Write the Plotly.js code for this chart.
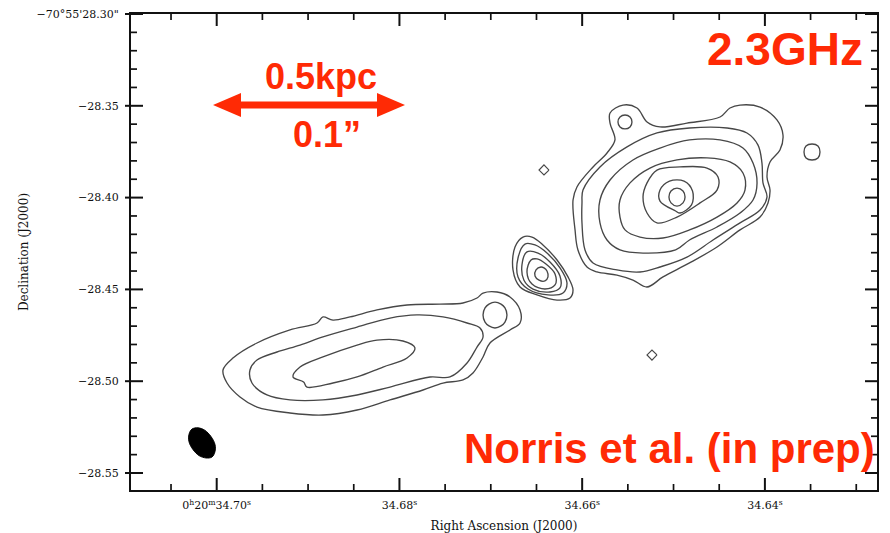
<!DOCTYPE html>
<html><head><meta charset="utf-8">
<script src="https://cdn.plot.ly/plotly-3.0.1.min.js"></script>
<style>html,body{margin:0;padding:0;background:#fff;}</style>
</head><body><div id="chart" style="width:890px;height:533px;"></div>
<script>
// ---- Axis ticks (RA seconds of 0h20m, Dec arcsec of -70d55m) ----
const raTickVals = [34.70, 34.68, 34.66, 34.64];
const raTickText = ['0<sup>h</sup>20<sup>m</sup>34.70<sup>s</sup>', '34.68<sup>s</sup>', '34.66<sup>s</sup>', '34.64<sup>s</sup>'];
const raMinorVals = [34.705, 34.695, 34.69, 34.685, 34.675, 34.67, 34.665, 34.655, 34.65, 34.645, 34.635, 34.63];
const decTickVals = [-28.30, -28.35, -28.40, -28.45, -28.50, -28.55];
const decTickText = ['\u221270\u00b055\'28.30"', '\u221228.35', '\u221228.40', '\u221228.45', '\u221228.50', '\u221228.55'];
const decMinorVals = [-28.31, -28.32, -28.33, -28.34, -28.36, -28.37, -28.38, -28.39, -28.41, -28.42, -28.43, -28.44,
                      -28.46, -28.47, -28.48, -28.49, -28.51, -28.52, -28.53, -28.54];
const raRange = [34.70938, 34.62773];
const decRange = [-28.55926, -28.30];

// ---- Contour levels (RA s, Dec ") ----
// South-east lobe
const lobeOuterRA = [34.69931, 34.69822, 34.69559, 34.69198, 34.68902, 34.68837, 34.68727, 34.68541, 34.68246, 34.67917, 34.67556, 34.67304, 34.67151, 34.67085, 34.66932, 34.66790, 34.66680, 34.66680, 34.66790, 34.67009, 34.67085, 34.67195, 34.67304, 34.67523, 34.67742, 34.68103, 34.68464, 34.68837, 34.69198, 34.69559, 34.69745, 34.69887];
const lobeOuterDec = [-28.4939, -28.4874, -28.4792, -28.4721, -28.4683, -28.4650, -28.4667, -28.4650, -28.4612, -28.4585, -28.4580, -28.4574, -28.4547, -28.4520, -28.4514, -28.4541, -28.4612, -28.4683, -28.4721, -28.4792, -28.4868, -28.4955, -28.4993, -28.5010, -28.5048, -28.5102, -28.5157, -28.5184, -28.5173, -28.5141, -28.5086, -28.5010];
const lobeMidRA = [34.69636, 34.69559, 34.69340, 34.69088, 34.68837, 34.68464, 34.68103, 34.67808, 34.67523, 34.67260, 34.67118, 34.67085, 34.67151, 34.67260, 34.67447, 34.67665, 34.68103, 34.68464, 34.68837, 34.69198, 34.69450, 34.69614];
const lobeMidDec = [-28.4939, -28.4885, -28.4841, -28.4803, -28.4759, -28.4705, -28.4656, -28.4639, -28.4650, -28.4683, -28.4710, -28.4759, -28.4814, -28.4901, -28.4977, -28.4977, -28.5032, -28.5075, -28.5102, -28.5102, -28.5075, -28.5010];
const lobeInnerRA = [34.69165, 34.69088, 34.68837, 34.68464, 34.68246, 34.67961, 34.67830, 34.67917, 34.68180, 34.68464, 34.68727, 34.69012, 34.69049];
const lobeInnerDec = [-28.4977, -28.4923, -28.4868, -28.4803, -28.4776, -28.4781, -28.4819, -28.4874, -28.4923, -28.4977, -28.5010, -28.5032, -28.5004];
const lobeKnotRA = [34.66823, 34.66845, 34.66888, 34.66954, 34.67020, 34.67063, 34.67085, 34.67063, 34.67020, 34.66954, 34.66888, 34.66845];
const lobeKnotDec = [-28.4639, -28.4601, -28.4580, -28.4569, -28.4580, -28.4601, -28.4639, -28.4678, -28.4699, -28.4710, -28.4699, -28.4678];
// Core
const core1RA = [34.66648, 34.66735, 34.66757, 34.66680, 34.66494, 34.66275, 34.66133, 34.66100, 34.66155, 34.66275, 34.66429, 34.66549];
const core1Dec = [-28.4215, -28.4269, -28.4394, -28.4487, -28.4530, -28.4558, -28.4547, -28.4503, -28.4432, -28.4340, -28.4258, -28.4215];
const core2RA = [34.66626, 34.66702, 34.66702, 34.66593, 34.66374, 34.66210, 34.66166, 34.66243, 34.66385, 34.66516];
const core2Dec = [-28.4253, -28.4329, -28.4432, -28.4498, -28.4530, -28.4520, -28.4465, -28.4383, -28.4302, -28.4258];
const core3RA = [34.66604, 34.66659, 34.66637, 34.66538, 34.66352, 34.66243, 34.66243, 34.66352, 34.66483];
const core3Dec = [-28.4296, -28.4367, -28.4450, -28.4498, -28.4514, -28.4492, -28.4427, -28.4351, -28.4302];
const core4RA = [34.66560, 34.66604, 34.66549, 34.66407, 34.66297, 34.66297, 34.66396, 34.66494];
const core4Dec = [-28.4340, -28.4405, -28.4471, -28.4498, -28.4476, -28.4416, -28.4362, -28.4334];
const core5RA = [34.66451, 34.66505, 34.66516, 34.66472, 34.66407, 34.66374, 34.66385, 34.66418];
const core5Dec = [-28.4378, -28.4394, -28.4427, -28.4450, -28.4454, -28.4432, -28.4400, -28.4383];
// North-west lobe
const nw1RA = [34.65695, 34.65553, 34.65400, 34.65290, 34.65148, 34.64853, 34.64491, 34.64382, 34.64272, 34.64053, 34.63868, 34.63802, 34.63835, 34.63944, 34.63977, 34.63944, 34.63966, 34.64053, 34.64272, 34.64524, 34.64825, 34.65115, 34.65290, 34.65444, 34.65619, 34.65838, 34.65947, 34.66046, 34.66078, 34.66100, 34.66057, 34.65881, 34.65728, 34.65641, 34.65695];
const nw1Dec = [-28.3539, -28.3496, -28.3512, -28.3588, -28.3615, -28.3594, -28.3561, -28.3512, -28.3496, -28.3507, -28.3577, -28.3659, -28.3741, -28.3806, -28.3888, -28.3959, -28.4029, -28.4106, -28.4176, -28.4269, -28.4356, -28.4432, -28.4487, -28.4449, -28.4422, -28.4405, -28.4378, -28.4285, -28.4176, -28.4013, -28.3942, -28.3833, -28.3757, -28.3686, -28.3594];
const nwBumpRA = [34.65455, 34.65476, 34.65531, 34.65586, 34.65608, 34.65586, 34.65531, 34.65476];
const nwBumpDec = [-28.3588, -28.3561, -28.3550, -28.3561, -28.3588, -28.3615, -28.3626, -28.3615];
const nw2RA = [34.65991, 34.65805, 34.65509, 34.65181, 34.64825, 34.64415, 34.64196, 34.64075, 34.64032, 34.64021, 34.63977, 34.64053, 34.64272, 34.64568, 34.64853, 34.65148, 34.65367, 34.65619, 34.65881, 34.65969, 34.66002, 34.66002];
const nw2Dec = [-28.3959, -28.3833, -28.3724, -28.3648, -28.3621, -28.3621, -28.3648, -28.3714, -28.3812, -28.3920, -28.3997, -28.4068, -28.4138, -28.4231, -28.4324, -28.4378, -28.4405, -28.4394, -28.4356, -28.4285, -28.4138, -28.4029];
const nw3RA = [34.65805, 34.65695, 34.65444, 34.65148, 34.64825, 34.64491, 34.64240, 34.64130, 34.64086, 34.64130, 34.64272, 34.64524, 34.64825, 34.64977, 34.65334, 34.65586, 34.65728, 34.65805];
const nw3Dec = [-28.4013, -28.3904, -28.3795, -28.3730, -28.3686, -28.3686, -28.3730, -28.3812, -28.3920, -28.4013, -28.4084, -28.4160, -28.4231, -28.4285, -28.4302, -28.4285, -28.4231, -28.4138];
const nw4RA = [34.65586, 34.65476, 34.65258, 34.64962, 34.64634, 34.64382, 34.64240, 34.64218, 34.64305, 34.64524, 34.64825, 34.65115, 34.65367, 34.65531, 34.65586];
const nw4Dec = [-28.4013, -28.3920, -28.3839, -28.3795, -28.3784, -28.3806, -28.3866, -28.3959, -28.4029, -28.4106, -28.4176, -28.4220, -28.4215, -28.4176, -28.4106];
const nw5RA = [34.65290, 34.65181, 34.64929, 34.64634, 34.64513, 34.64524, 34.64710, 34.64962, 34.65181, 34.65290, 34.65334];
const nw5Dec = [-28.3920, -28.3850, -28.3833, -28.3839, -28.3888, -28.3959, -28.4029, -28.4106, -28.4138, -28.4084, -28.3997];
const nw6RA = [34.65148, 34.65044, 34.64885, 34.64792, 34.64803, 34.64929, 34.64977, 34.65148];
const nw6Dec = [-28.3959, -28.3910, -28.3910, -28.3964, -28.4040, -28.4084, -28.4073, -28.4019];
const nw7RA = [34.64874, 34.64896, 34.64962, 34.65028, 34.65050, 34.65028, 34.64962, 34.64896];
const nw7Dec = [-28.3997, -28.3964, -28.3948, -28.3964, -28.3997, -28.4029, -28.4046, -28.4029];
// Isolated small features
const spotWRA = [34.63397, 34.63419, 34.63484, 34.63550, 34.63572, 34.63550, 34.63484, 34.63419];
const spotWDec = [-28.3752, -28.3719, -28.3708, -28.3719, -28.3752, -28.3784, -28.3795, -28.3784];
const spotNRA = [34.66363, 34.66418, 34.66472, 34.66418];
const spotNDec = [-28.3850, -28.3822, -28.3850, -28.3877];
const spotSRA = [34.65181, 34.65236, 34.65290, 34.65236];
const spotSDec = [-28.4857, -28.4830, -28.4857, -28.4885];
// Restoring beam
const beamRA = [34.70052, 34.70117, 34.70194, 34.70260, 34.70303, 34.70303, 34.70271, 34.70205, 34.70128, 34.70063, 34.70019, 34.70019];
const beamDec = [-28.5413, -28.5418, -28.5405, -28.5372, -28.5330, -28.5289, -28.5261, -28.5254, -28.5268, -28.5301, -28.5344, -28.5384];

const smoothRings = [
  [lobeOuterRA, lobeOuterDec], [lobeMidRA, lobeMidDec], [lobeInnerRA, lobeInnerDec], [lobeKnotRA, lobeKnotDec],
  [core1RA, core1Dec], [core2RA, core2Dec], [core3RA, core3Dec], [core4RA, core4Dec], [core5RA, core5Dec],
  [nw1RA, nw1Dec], [nwBumpRA, nwBumpDec], [nw2RA, nw2Dec], [nw3RA, nw3Dec], [nw4RA, nw4Dec],
  [nw5RA, nw5Dec], [nw6RA, nw6Dec], [nw7RA, nw7Dec], [spotWRA, spotWDec]
];
const sharpRings = [[spotNRA, spotNDec], [spotSRA, spotSDec]];

const close = a => a.concat([a[0]]);
const contourColor = '#474747';
const traces = [];
smoothRings.forEach(r => traces.push({
  type: 'scatter', mode: 'lines', x: close(r[0]), y: close(r[1]),
  line: {color: contourColor, width: 1.35, shape: 'spline', smoothing: 1},
  hoverinfo: 'skip', showlegend: false
}));
sharpRings.forEach(r => traces.push({
  type: 'scatter', mode: 'lines', x: close(r[0]), y: close(r[1]),
  line: {color: contourColor, width: 1.2},
  hoverinfo: 'skip', showlegend: false
}));
traces.push({
  type: 'scatter', mode: 'lines', x: close(beamRA), y: close(beamDec),
  fill: 'toself', fillcolor: '#000', line: {color: '#000', width: 1, shape: 'spline', smoothing: 1},
  hoverinfo: 'skip', showlegend: false
});

// ---- Layout helpers (pixel -> paper) ----
const L = 131, T = 14, W = 746, H = 476;
const px = x => (x - L) / W;
const py = y => 1 - (y - T) / H;
const decPaper = v => (v - decRange[0]) / (decRange[1] - decRange[0]);
const raPaper = v => (v - raRange[0]) / (raRange[1] - raRange[0]);
const red = '#ff2a05';
const tickColor = '#111';
const redFont = s => ({family: 'Liberation Sans, Arial, sans-serif', size: s, color: red, weight: 'bold'});
const axisFont = {family: 'DejaVu Serif, serif', size: 11, color: '#111'};

// Frame ticks drawn as paper-space segments at the axis tick values
const tickShapes = [];
const seg = (x0, y0, x1, y1, w) => ({type: 'line', xref: 'paper', yref: 'paper', layer: 'above',
  x0: x0, y0: y0, x1: x1, y1: y1, line: {color: tickColor, width: w}});
raTickVals.forEach(v => {
  tickShapes.push(seg(raPaper(v), 0, raPaper(v), 12 / H, 2));
  tickShapes.push(seg(raPaper(v), 1, raPaper(v), 1 - 12 / H, 2));
});
raMinorVals.forEach(v => {
  tickShapes.push(seg(raPaper(v), 0, raPaper(v), 6 / H, 1.7));
  tickShapes.push(seg(raPaper(v), 1, raPaper(v), 1 - 6 / H, 1.7));
});
decTickVals.forEach(v => {
  tickShapes.push(seg(-6 / W, decPaper(v), 12 / W, decPaper(v), 2));
  tickShapes.push(seg(1, decPaper(v), 1 - 12 / W, decPaper(v), 2));
});
decMinorVals.forEach(v => {
  tickShapes.push(seg(0, decPaper(v), 6 / W, decPaper(v), 1.7));
  tickShapes.push(seg(1, decPaper(v), 1 - 6 / W, decPaper(v), 1.7));
});

const layout = {
  width: 890, height: 533,
  margin: {l: L, r: 890 - L - W, t: T, b: 533 - T - H},
  paper_bgcolor: '#ffffff', plot_bgcolor: '#ffffff',
  showlegend: false,
  xaxis: {
    range: raRange, tickmode: 'array', tickvals: raTickVals, ticktext: raTickText,
    ticks: '', showline: true, linecolor: '#111', linewidth: 2, mirror: true,
    showgrid: false, zeroline: false, tickfont: axisFont, ticklabelstandoff: 4,
    title: {text: 'Right Ascension (J2000)', font: {family: 'DejaVu Serif, serif', size: 12, color: '#111'}, standoff: 10}
  },
  yaxis: {
    range: decRange, tickmode: 'array', tickvals: decTickVals, ticktext: decTickText,
    ticks: '', showline: true, linecolor: '#111', linewidth: 2, mirror: true,
    showgrid: false, zeroline: false, tickfont: axisFont, ticklabelstandoff: 8,
    title: {text: 'Declination (J2000)', font: {family: 'DejaVu Serif, serif', size: 12, color: '#111'}, standoff: 5}
  },
  shapes: tickShapes.concat([
    {type: 'line', xref: 'paper', yref: 'paper', x0: px(236), x1: px(382), y0: py(105), y1: py(105),
     line: {color: red, width: 7}},
    {type: 'path', xref: 'paper', yref: 'paper',
     path: `M ${px(213)},${py(105)} L ${px(241)},${py(93)} L ${px(241)},${py(117)} Z`,
     fillcolor: red, line: {width: 0}},
    {type: 'path', xref: 'paper', yref: 'paper',
     path: `M ${px(405)},${py(105)} L ${px(377)},${py(93)} L ${px(377)},${py(117)} Z`,
     fillcolor: red, line: {width: 0}}
  ]),
  annotations: [
    {text: '2.3GHz', xref: 'paper', yref: 'paper', x: px(865), y: py(49), xanchor: 'right', yanchor: 'middle',
     showarrow: false, font: redFont(46)},
    {text: '0.5kpc', xref: 'paper', yref: 'paper', x: px(321), y: py(77), xanchor: 'center', yanchor: 'middle',
     showarrow: false, font: redFont(36)},
    {text: '0.1\u201d', xref: 'paper', yref: 'paper', x: px(327), y: py(134), xanchor: 'center', yanchor: 'middle',
     showarrow: false, font: redFont(36)},
    {text: 'Norris et al. (in prep)', xref: 'paper', yref: 'paper', x: px(877), y: py(448), xanchor: 'right', yanchor: 'middle',
     showarrow: false, font: redFont(42)}
  ]
};

Plotly.newPlot('chart', traces, layout, {staticPlot: true, displayModeBar: false});
</script></body></html>
